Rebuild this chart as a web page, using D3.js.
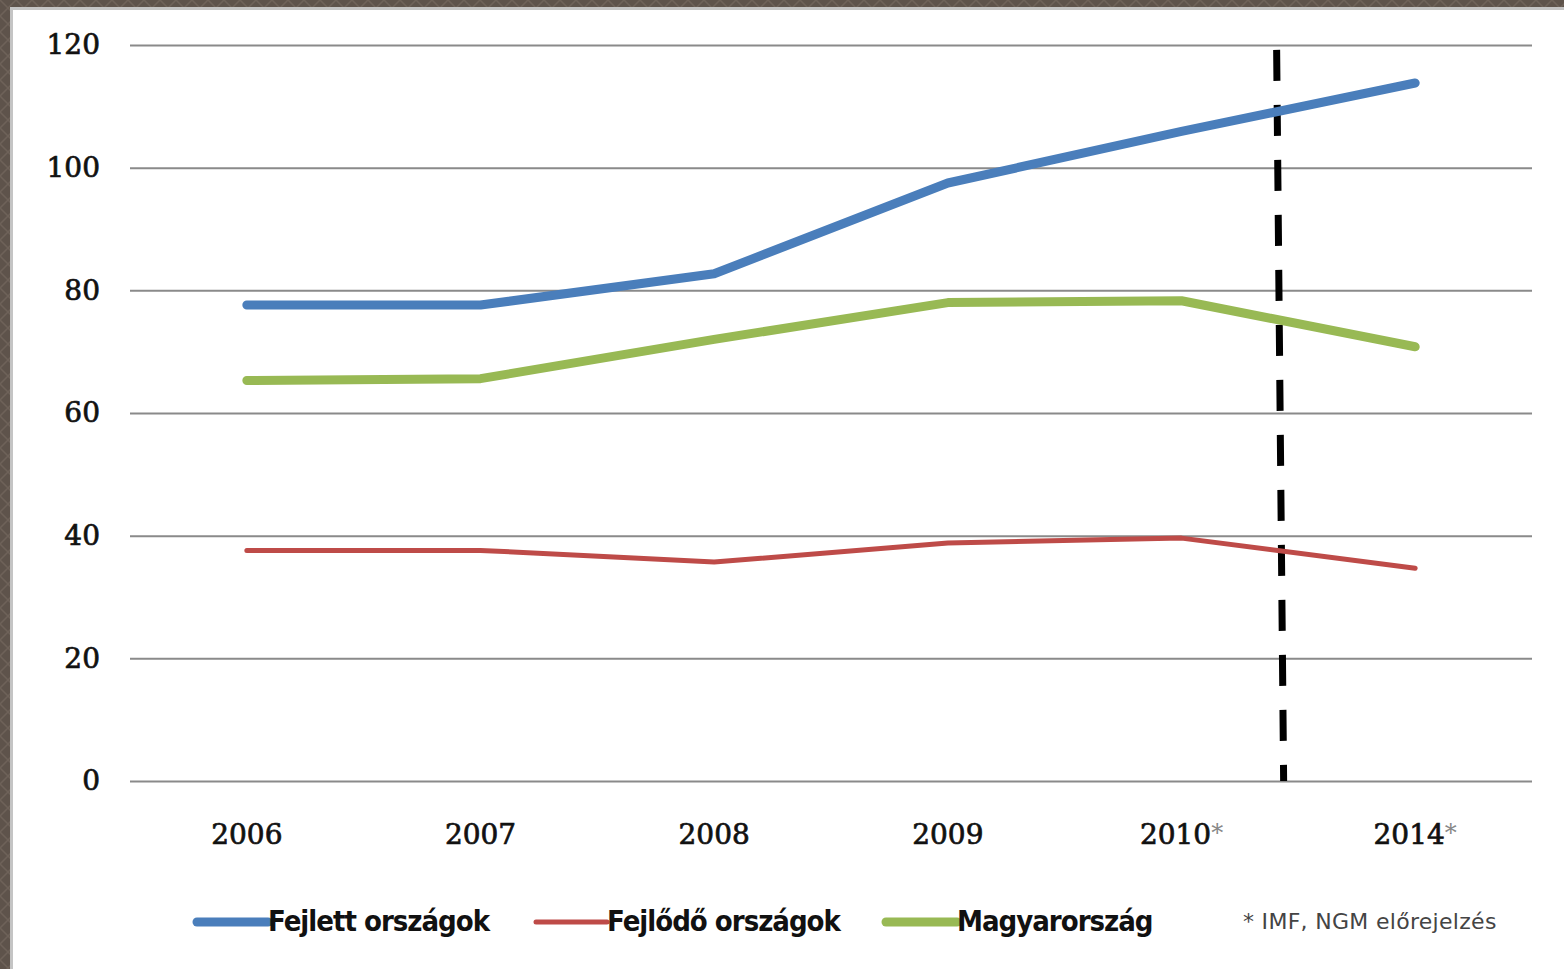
<!DOCTYPE html>
<html><head><meta charset="utf-8">
<script src="https://cdn.jsdelivr.net/npm/d3@7"></script>
<style>body{margin:0;background:#fff}svg{display:block}</style>
</head><body>
<svg id="c" width="1564" height="969"></svg>
<script>
const categories = ["2006","2007","2008","2009","2010*","2014*"];
const fejlett = [77.6, 77.6, 82.7, 97.5, 105.9, 113.8];
const fejlodo = [37.6, 37.6, 35.7, 38.8, 39.6, 34.7];
const magyar = [65.3, 65.6, 72, 78, 78.3, 70.8];
const yTicks = [0,20,40,60,80,100,120];
const seriesNames = ["Fejlett országok","Fejlődő országok","Magyarország"];
const footnote = "* IMF, NGM előrejelzés";

const svg = d3.select("#c");
// frame
const defs = svg.append("defs");
const pat = defs.append("pattern").attr("id","pt").attr("width",16).attr("height",16).attr("patternUnits","userSpaceOnUse");
pat.append("rect").attr("width",16).attr("height",16).attr("fill","#5e534b");
pat.append("path").attr("d","M0,0L16,16M16,0L0,16").attr("stroke","#6e6259").attr("stroke-width",1.5);
svg.append("rect").attr("width",1564).attr("height",969).attr("fill","url(#pt)");
svg.append("rect").attr("x",10).attr("y",7).attr("width",1554).attr("height",962).attr("fill","#c4c4c4");
svg.append("rect").attr("x",13).attr("y",10).attr("width",1551).attr("height",959).attr("fill","#fff");

const x = d3.scaleBand().domain(categories).range([130,1532]);
const y = d3.scaleLinear().domain([0,120]).range([781,45]);
const cx = d => x(d) + x.bandwidth()/2;

// gridlines
const yAxis = d3.axisLeft(y).tickValues(yTicks).tickSize(-(1532-130)).tickPadding(30);
const ga = svg.append("g").attr("transform","translate(130,0)").call(yAxis);
ga.select(".domain").remove();
ga.selectAll(".tick line").attr("stroke","#8a8a8a").attr("stroke-width",2);
ga.selectAll(".tick text").attr("font-family","DejaVu Serif").attr("font-size",28).attr("fill","#111")
  .attr("stroke","#111").attr("stroke-width",0.7).attr("dy","0.32em");

const xAxis = d3.axisBottom(x).tickSize(0).tickPadding(43);
const gx = svg.append("g").attr("transform","translate(0,781)").call(xAxis);
gx.select(".domain").remove();
gx.selectAll(".tick text").attr("font-family","DejaVu Serif").attr("font-size",28).attr("fill","#111")
  .attr("stroke","#111").attr("stroke-width",0.7)
  .each(function(d){
    if (d.endsWith("*")) {
      const t = d3.select(this);
      t.text(d.slice(0,-1));
      t.append("tspan").text("*").attr("fill","#888").attr("stroke","none").attr("font-size",24).attr("dy","-0.12em");
    }
  });

// dashed forecast divider
const dx = x("2010*") + x.bandwidth()*0.92;
svg.append("line").attr("x1",dx-3).attr("x2",dx+4).attr("y1",y(119.2)).attr("y2",y(0))
  .attr("stroke","#000").attr("stroke-width",7).attr("stroke-dasharray","31,24");

const colors = ["#4a7ebb","#be4b48","#98b954"];
const widths = [9,5,9];
const data = [fejlett, fejlodo, magyar];
const line = d3.line().x((d,i)=>cx(categories[i])).y(d=>y(d));
[1,2,0].forEach(k=>{
  svg.append("path").datum(data[k]).attr("d",line).attr("fill","none")
    .attr("stroke",colors[k]).attr("stroke-width",widths[k]).attr("stroke-linecap","round").attr("stroke-linejoin","round");
});

// legend
const legX = [197, 536, 886];
const legY = 922;
seriesNames.forEach((n,k)=>{
  svg.append("line").attr("x1",legX[k]).attr("x2",legX[k]+71).attr("y1",legY).attr("y2",legY)
    .attr("stroke",colors[k]).attr("stroke-width",widths[k]).attr("stroke-linecap","round");
  svg.append("text").attr("x",legX[k]+71).attr("y",legY+9).text(n)
    .attr("font-family","DejaVu Sans Condensed").attr("font-weight","bold").attr("font-size",29)
    .attr("letter-spacing","-1px").attr("fill","#111");
});
svg.append("text").attr("x",1243).attr("y",929).text(footnote)
  .attr("font-family","DejaVu Sans").attr("font-size",22).attr("letter-spacing","0.3px").attr("fill","#444");
</script>
</body></html>
